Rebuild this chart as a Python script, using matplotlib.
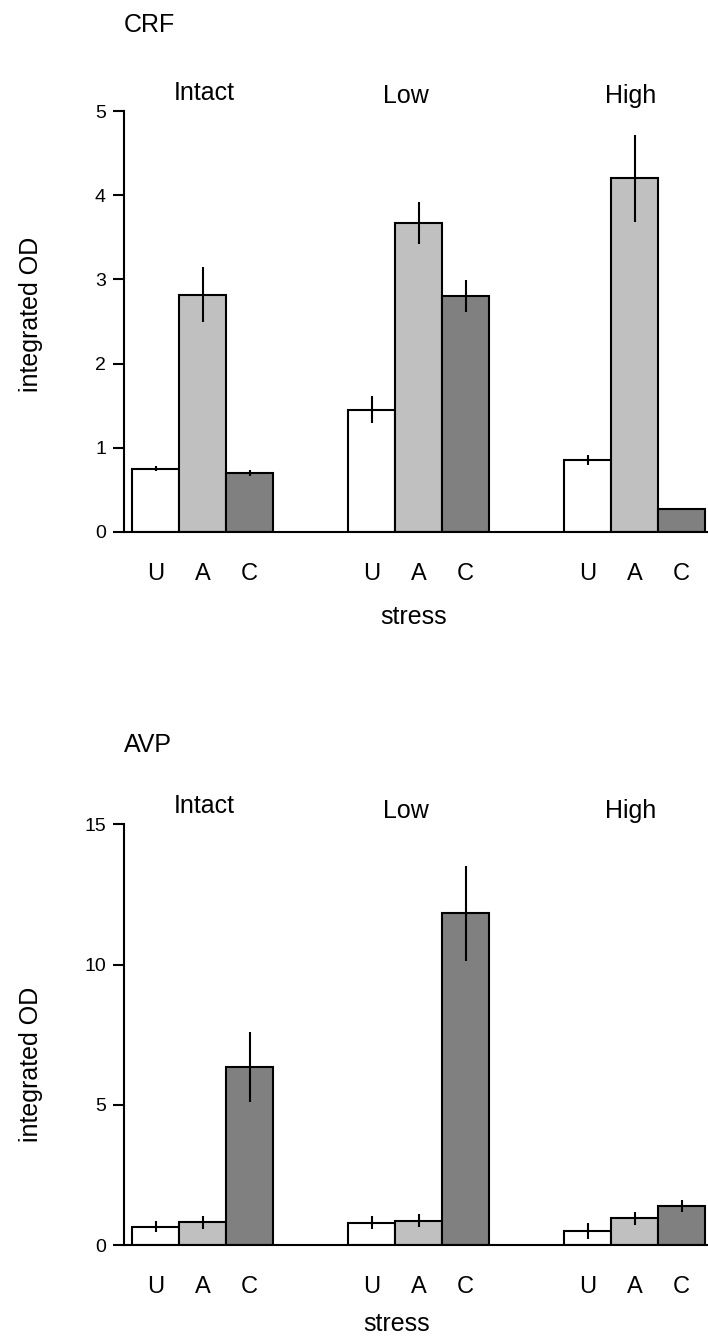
import numpy as np
import matplotlib
matplotlib.use('Agg')
import matplotlib.pyplot as plt
import matplotlib.transforms as mtransforms

plt.rcParams['font.family'] = ['Liberation Sans', 'DejaVu Sans']

# groups and treatments
groups = ['Intact', 'Low', 'High']
treatments = ['U', 'A', 'C']
bar_colors = ['white', '#c0c0c0', '#808080']

# CRF values (rows = group, cols = U, A, C) and error half-ranges
crf_vals = [[0.75, 2.82, 0.70],
            [1.45, 3.67, 2.80],
            [0.85, 4.20, 0.27]]
crf_err = [[0.03, 0.33, 0.04],
           [0.16, 0.25, 0.19],
           [0.06, 0.52, 0.0]]

# AVP values and error half-ranges
avp_vals = [[0.66, 0.82, 6.36],
            [0.81, 0.88, 11.83],
            [0.51, 0.96, 1.40]]
avp_err = [[0.20, 0.23, 1.24],
           [0.23, 0.23, 1.69],
           [0.27, 0.22, 0.21]]

crf_ticks = [0, 1, 2, 3, 4, 5]
avp_ticks = [0, 5, 10, 15]

W, H = 708, 1337
fig = plt.figure(figsize=(W / 100, H / 100), dpi=100)

bw = 47 / 216  # bar width in group units
xlim = (-(202.5 - 124) / 216, (708 - 202.5) / 216)
label_x = [0.01, 0.94, 1.98]
lw = 1.5


def draw_panel(ax, vals, errs, ticks, title, title_y, ylab_y, stress_x, stress_y, glab_y):
    vals = np.array(vals)
    errs = np.array(errs)
    for j in range(len(treatments)):
        xs = np.arange(len(groups)) + (j - 1) * bw
        ax.bar(xs, vals[:, j], width=bw, color=bar_colors[j], edgecolor='black',
               linewidth=lw, zorder=2)
        ax.errorbar(xs, vals[:, j], yerr=errs[:, j], fmt='none', ecolor='black',
                    elinewidth=lw, capsize=0, zorder=3)
    ax.set_xlim(*xlim)
    ax.set_ylim(ticks[0], ticks[-1])
    ax.set_yticks(ticks)
    pos = [g + (j - 1) * bw for g in range(len(groups)) for j in range(len(treatments))]
    ax.set_xticks(pos, labels=treatments * len(groups))
    ax.tick_params(axis='x', length=0, pad=22, labelsize=17)
    ax.tick_params(axis='y', direction='out', length=8, width=lw, pad=5, labelsize=14)
    for s in ['top', 'right']:
        ax.spines[s].set_visible(False)
    for s in ['left', 'bottom']:
        ax.spines[s].set_linewidth(lw)
    trans = mtransforms.blended_transform_factory(ax.transData, ax.transAxes)
    for k, g in enumerate(groups):
        ax.text(label_x[k], glab_y[k], g, transform=trans, ha='center', va='baseline',
                fontsize=18)
    fig.text(124 / W, 1 - title_y / H, title, ha='left', va='baseline', fontsize=18)
    fig.text(43 / W, 1 - ylab_y / H, 'integrated OD', rotation=90, ha='right',
             va='center', fontsize=18)
    fig.text(stress_x / W, 1 - stress_y / H, 'stress', ha='center', va='baseline',
             fontsize=18)


ax1 = fig.add_axes([124 / W, 1 - 532 / H, 584 / W, 421 / H])
draw_panel(ax1, crf_vals, crf_err, crf_ticks, 'CRF', 32, 314.5, 414, 624,
           [1.026, 1.020, 1.020])

ax2 = fig.add_axes([124 / W, 1 - 1245.3 / H, 584 / W, 421 / H])
draw_panel(ax2, avp_vals, avp_err, avp_ticks, 'AVP', 752, 1064.5, 397, 1331,
           [1.027, 1.016, 1.016])

fig.savefig('out.png', dpi=100)
